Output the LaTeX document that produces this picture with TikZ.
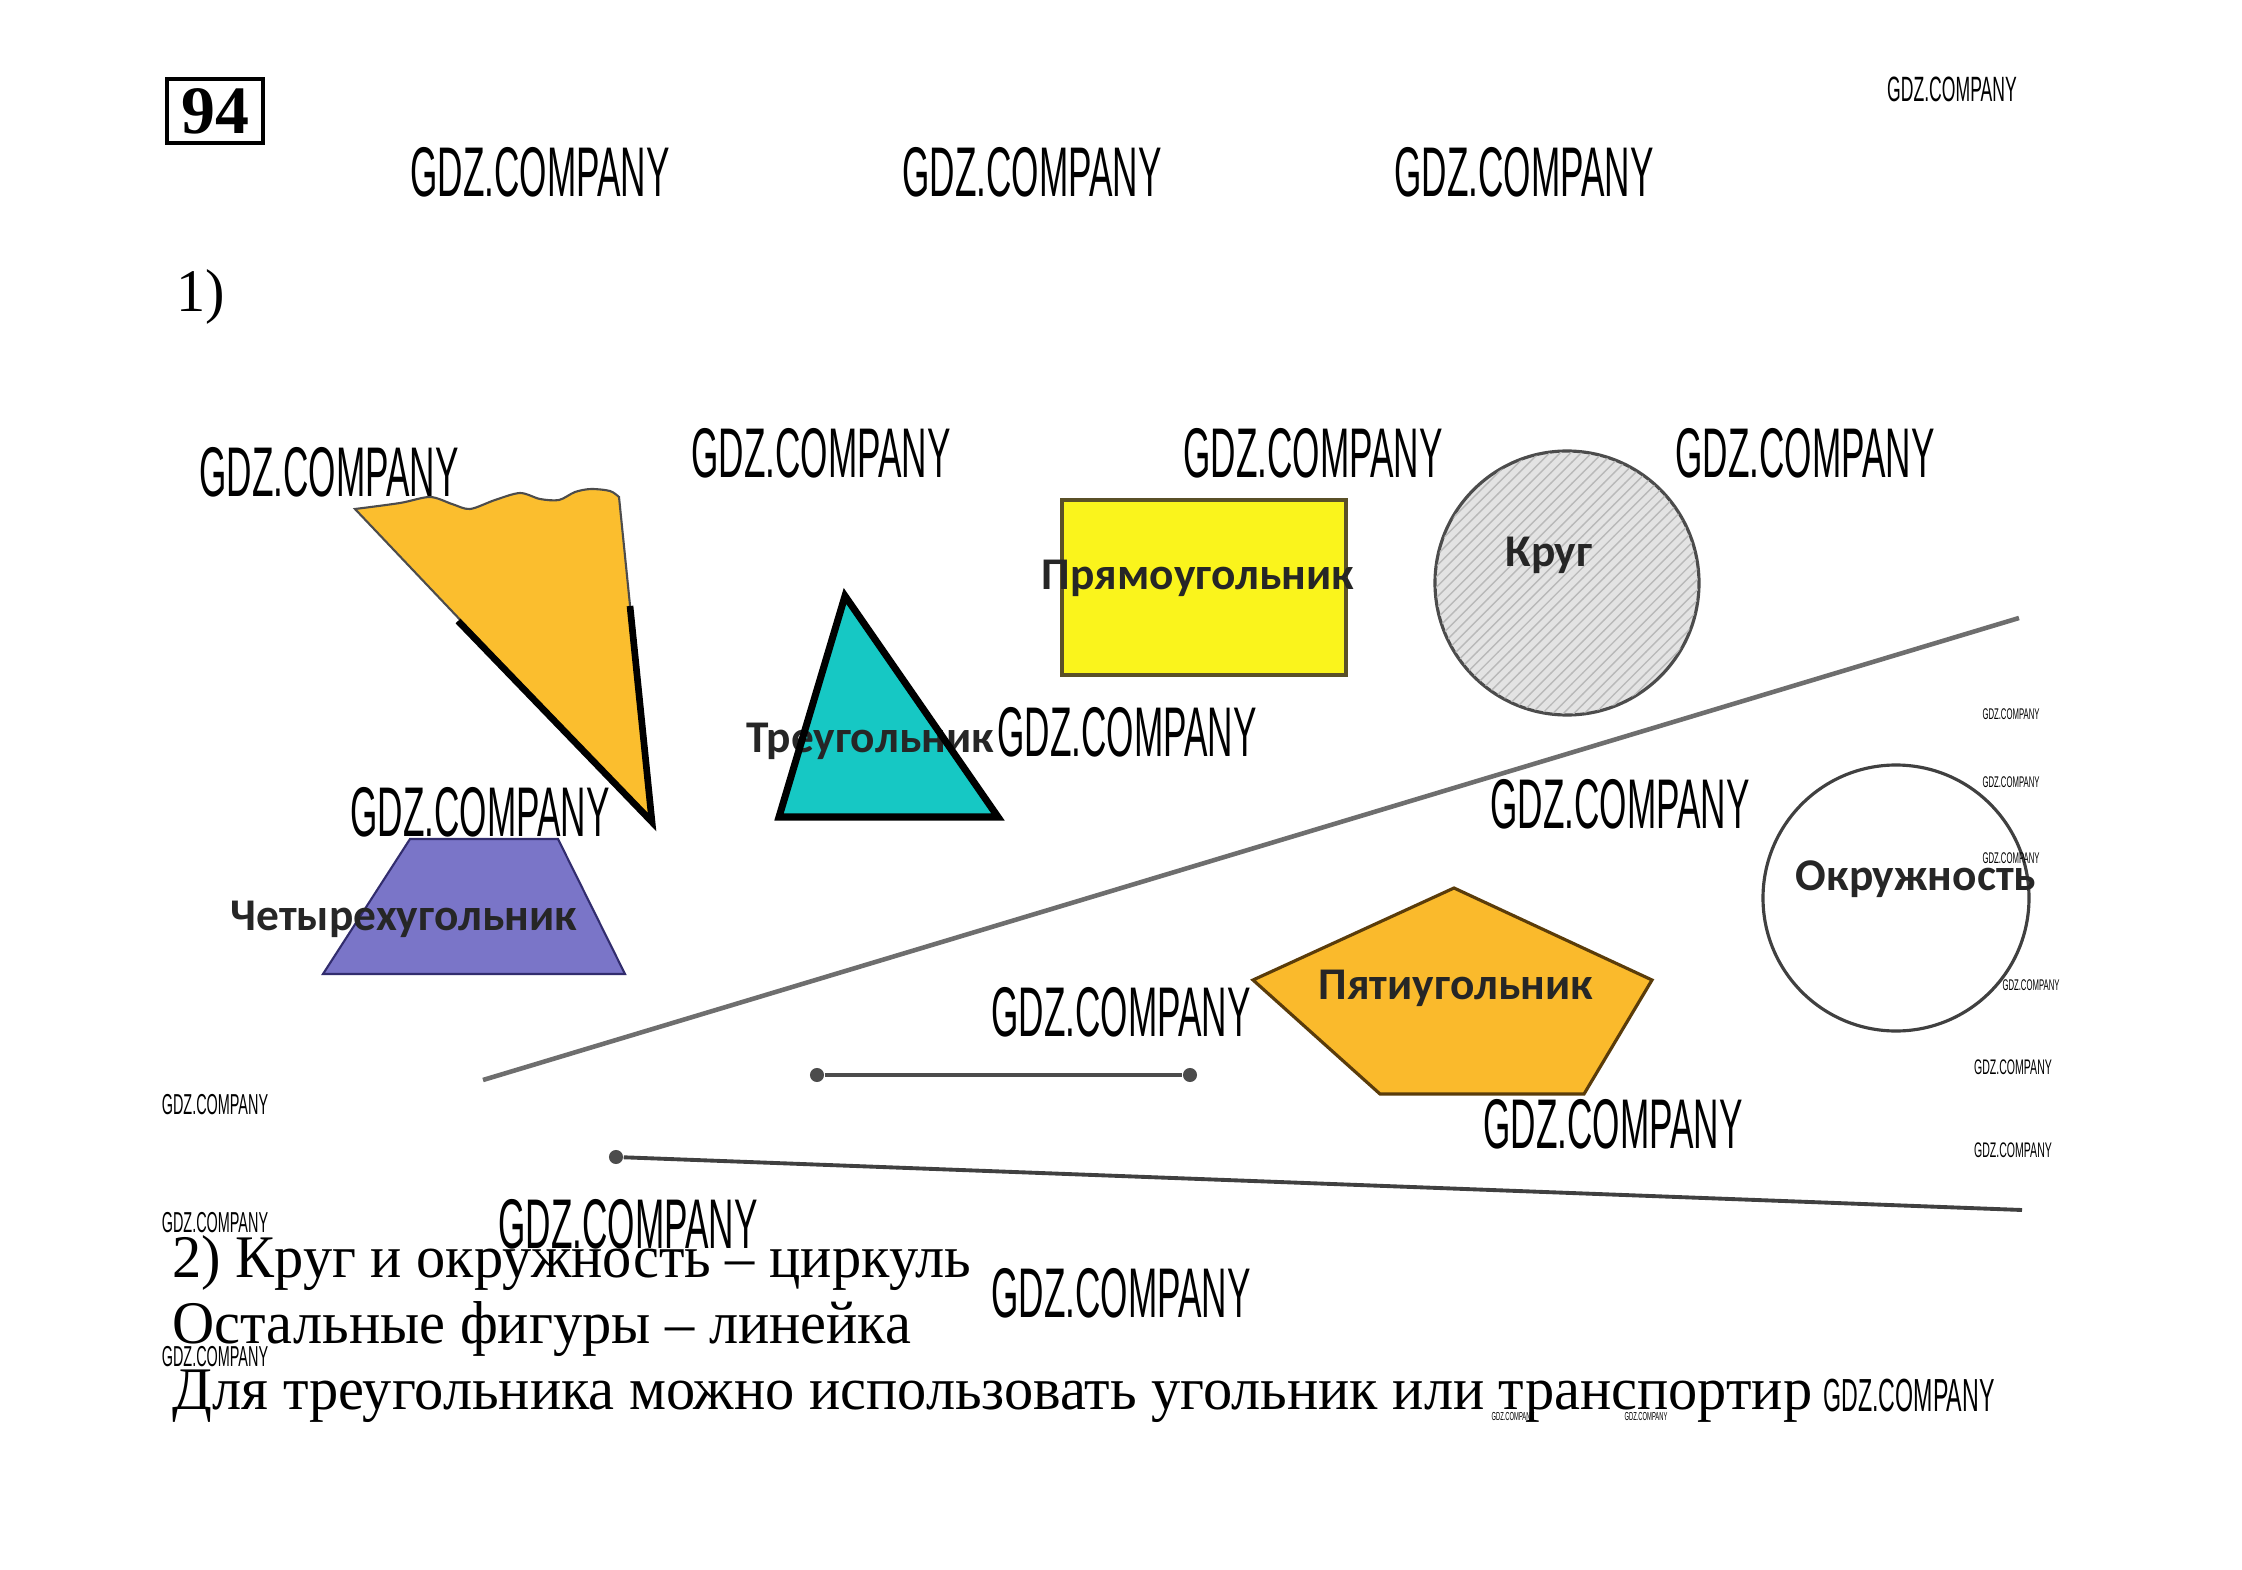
\documentclass[tikz,border=0pt]{standalone}
\usepackage{fontspec}
\setmainfont{Liberation Serif}
\newfontfamily\bodyfont[FakeStretch=0.965]{Liberation Serif}
\newfontfamily\gdzfont[FakeStretch=0.5]{Liberation Sans}
\newfontfamily\labelfont{Carlito}
\usetikzlibrary{positioning,patterns}

\definecolor{tornorange}{RGB}{251,190,46}
\definecolor{tealfill}{RGB}{22,200,196}
\definecolor{rectyellow}{RGB}{250,244,28}
\definecolor{purplefill}{RGB}{122,117,200}
\definecolor{pentorange}{RGB}{250,186,44}
\definecolor{raygray}{RGB}{110,110,110}

\begin{document}
\begin{tikzpicture}[x=0.01cm, y=-0.01cm,
            gdz/.style={font=\gdzfont\fontsize{#1}{#1}\selectfont, inner sep=0pt},
            gdz/.default=20,
            shapelabel/.style={font=\labelfont\bfseries\fontsize{12.9}{12.9}\selectfont, text=black!85, inner sep=0pt},
            body/.style={font=\bodyfont\fontsize{17.2}{19}\selectfont, anchor=base west, inner sep=0pt},
            enddot/.style={circle, fill=black!70, inner sep=0pt, minimum size=4pt}]
            
            \useasboundingbox[fill=white] (0,0) rectangle (2242,1570);
            
            % Header
            
            \node[draw, line width=1.2pt, minimum width=0.96cm, minimum height=0.64cm, inner sep=0pt,
                  font=\bfseries\fontsize{19.3}{19.3}\selectfont] (num) at (215,111) {94};
            \node[body] (part1) at (176,312) {1)};
            
            % Shapes
            
            \draw[fill=tornorange, draw=black!70, line width=0.6pt]
                (355,509) plot[smooth] coordinates {(355,509) (400,503) (430,497) (452,504) (470,509) (495,500)
                (520,493) (540,499) (559,500) (575,492) (591,489) (610,491) (619,497)} -- (652,822) -- cycle;
            \draw[line width=1.9pt] (458,621) -- (652,822) -- (630,606);
            
            \fill[tealfill] (845,596) -- (998,817) -- (779,817) -- cycle;
            \node[shapelabel, anchor=base west] (tri) at (746,752) {Треугольник};
            \draw[line width=2pt] (845,596) -- (998,817) -- (779,817) -- cycle;
            
            \draw[fill=rectyellow, draw={rgb,255:red,90;green,80;blue,40}, line width=0.9pt] (1062,500) rectangle (1346,675);
            \node[shapelabel] (rect) at (1198,578) {Прямоугольник};
            
            \draw[fill=gray!22, draw=black!70, line width=0.9pt] (1567,583) circle [radius=132];
            \fill[pattern=north east lines, pattern color=gray!55] (1567,583) circle [radius=131];
            \node[shapelabel] (disk) at (1549,555) {Круг};
            
            \draw[fill=purplefill, draw={rgb,255:red,50;green,45;blue,110}, line width=0.6pt]
                (410,839) -- (558,839) -- (625,974) -- (323,974) -- cycle;
            \node[shapelabel] (quad) at (404,919) {Четырехугольник};
            
            \draw[fill=pentorange, draw={rgb,255:red,90;green,60;blue,10}, line width=0.9pt]
                (1454,888) -- (1652,980) -- (1584,1094) -- (1380,1094) -- (1253,980) -- cycle;
            \node[shapelabel] (pent) at (1456,988) {Пятиугольник};
            
            \draw[draw=black!75, line width=0.9pt] (1896,898) circle [radius=133];
            \node[shapelabel] (ring) at (1916,879) {Окружность};
            
            % Lines
            
            \coordinate (r1a) at (483,1080);
            \coordinate (r1b) at (2019,618);
            \node[enddot] (s1) at (817,1075) {};
            \node[enddot] (s2) at (1190,1075) {};
            \node[enddot] (r2a) at (616,1157) {};
            \coordinate (r2b) at (2022,1210);
            
            \draw[raygray, line width=1.3pt] (r1a) -- (r1b);
            \draw[black!70, line width=1pt] (s1) -- (s2);
            \draw[black!75, line width=1.1pt] (r2a) -- (r2b);
            
            % Part 2
            
            \node[body] (ans1) at (172,1277) {2) Круг и окружность – циркуль};
            \node[body] (ans2) at (172,1343) {Остальные фигуры – линейка};
            \node[body] (ans3) at (172,1409) {Для треугольника можно использовать угольник или транспортир};
            
            % Watermarks
            
            \node[gdz] (w1) at (540,172) {GDZ.COMPANY};
            \node[gdz] (w2) at (1032,172) {GDZ.COMPANY};
            \node[gdz] (w3) at (1524,172) {GDZ.COMPANY};
            \node[gdz] (w4) at (329,472) {GDZ.COMPANY};
            \node[gdz] (w5) at (821,453) {GDZ.COMPANY};
            \node[gdz] (w6) at (1313,453) {GDZ.COMPANY};
            \node[gdz] (w7) at (1805,453) {GDZ.COMPANY};
            \node[gdz] (w8) at (1127,732) {GDZ.COMPANY};
            \node[gdz] (w9) at (480,812) {GDZ.COMPANY};
            \node[gdz] (w10) at (1620,804) {GDZ.COMPANY};
            \node[gdz] (w11) at (1121,1012) {GDZ.COMPANY};
            \node[gdz] (w12) at (1613,1124) {GDZ.COMPANY};
            \node[gdz] (w13) at (628,1224) {GDZ.COMPANY};
            \node[gdz] (w14) at (1121,1293) {GDZ.COMPANY};
            \node[gdz=10] (w15) at (1952,89) {GDZ.COMPANY};
            \node[gdz=13.2] (w16) at (1909,1396) {GDZ.COMPANY};
            \node[gdz=8.2] (w17) at (215,1105) {GDZ.COMPANY};
            \node[gdz=8.2] (w18) at (215,1223) {GDZ.COMPANY};
            \node[gdz=8.2] (w19) at (215,1357) {GDZ.COMPANY};
            \node[gdz=4.4] (w20) at (2011,714) {GDZ.COMPANY};
            \node[gdz=4.4] (w21) at (2011,782) {GDZ.COMPANY};
            \node[gdz=4.4] (w22) at (2011,858) {GDZ.COMPANY};
            \node[gdz=4.4] (w23) at (2031,985) {GDZ.COMPANY};
            \node[gdz=6] (w24) at (2013,1067) {GDZ.COMPANY};
            \node[gdz=6] (w25) at (2013,1150) {GDZ.COMPANY};
            \node[gdz=3.3] (w26) at (1513,1416) {GDZ.COMPANY};
            \node[gdz=3.3] (w27) at (1646,1416) {GDZ.COMPANY};
            
            \end{tikzpicture}
\end{document}
